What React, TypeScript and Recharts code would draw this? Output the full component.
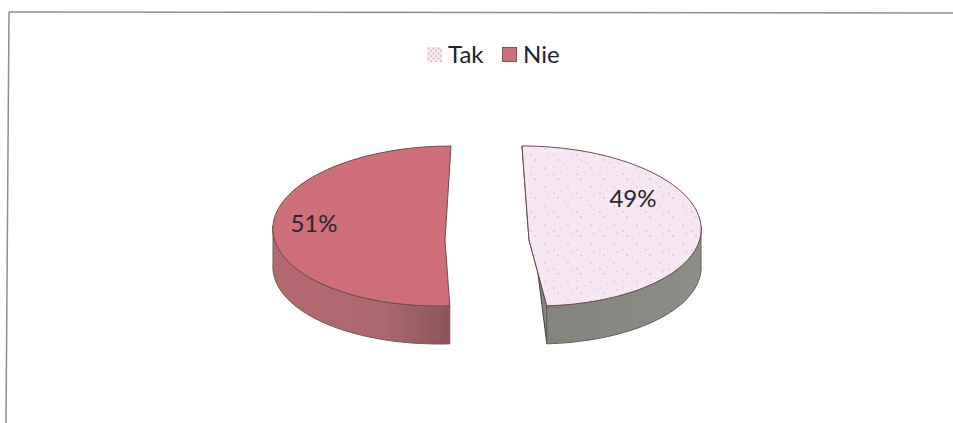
import { PieChart, Pie, Legend, Cell } from "recharts";

const categories = ["Tak", "Nie"];
const shares = [49, 51];

const chartData = categories.map((name, i) => ({ name, value: shares[i] }));

// look of the fake 3D slices
const TILT = 80 / 172;
const APEX_DROP = 14;
const DEPTH = 38;
const sliceLook = [
  { shiftX: 41, lean: -7, top: "url(#speckle)", wall: "url(#wallGrey)", labelX: 104, labelY: -43 },
  { shiftX: -43, lean: 6, top: "#cf6f79", wall: "url(#wallRed)", labelX: -131, labelY: -18 },
];

const point = (p: any, look: any, angle: number, drop = 0) => {
  const rad = (angle * Math.PI) / 180;
  const up = Math.sin(rad);
  const x = p.cx + look.shiftX + p.outerRadius * Math.cos(rad) + look.lean * up;
  const y = p.cy - p.outerRadius * TILT * up + drop;
  return [x, y];
};

const arcPoints = (p: any, look: any, drop = 0, frontOnly = false) => {
  const pts: number[][] = [];
  const steps = 90;
  for (let i = 0; i <= steps; i++) {
    const angle = p.startAngle + ((p.endAngle - p.startAngle) * i) / steps;
    if (frontOnly && Math.sin((angle * Math.PI) / 180) > 0.02) continue;
    pts.push(point(p, look, angle, drop));
  }
  return pts;
};

const toPath = (pts: number[][]) =>
  pts.map((q, i) => `${i ? "L" : "M"}${q[0].toFixed(1)},${q[1].toFixed(1)}`).join("") + "Z";

const Slice3D = (props: any) => {
  const look = sliceLook[props.index];
  const apex = [props.cx + look.shiftX, props.cy + APEX_DROP];
  const rim = arcPoints(props, look);
  const front = arcPoints(props, look, 0, true);
  const frontLow = arcPoints(props, look, DEPTH, true);
  const wall = [...front, ...frontLow.slice().reverse()];
  // the cut face that shows beside the right slice
  const cut =
    props.index === 0
      ? [rim[0], apex, rim[rim.length - 1], point(props, look, props.endAngle, DEPTH)]
      : [];
  return (
    <g>
      {cut.length > 0 && <path d={toPath(cut)} fill="#85857f" stroke="#3f3f3c" strokeWidth={1} />}
      <path d={toPath(wall)} fill={look.wall} stroke="#6e5a5a" strokeWidth={1} />
      <path d={toPath([apex, ...rim])} fill={look.top} stroke="#6b4b50" strokeWidth={1} />
    </g>
  );
};

const renderLabel = (p: any) => {
  const look = sliceLook[p.index];
  return (
    <text
      x={p.cx + look.shiftX + look.labelX}
      y={p.cy + APEX_DROP + look.labelY}
      textAnchor="middle"
      dominantBaseline="central"
      fontFamily="Lato"
      fontSize={24}
      fill="#26262c"
    >
      {`${shares[p.index]}%`}
    </text>
  );
};

const LegendRow = () => (
  <div style={{ display: "flex", alignItems: "center", fontFamily: "Lato", fontSize: 24, color: "#22222a", lineHeight: "28px" }}>
    <svg width={15} height={15} style={{ marginRight: 6 }}>
      <rect width={15} height={15} fill="url(#speckleDark)" />
    </svg>
    <span style={{ width: 54 }}>{categories[0]}</span>
    <svg width={15} height={15} style={{ marginRight: 6 }}>
      <rect x={0.5} y={0.5} width={14} height={14} fill="#cf6f79" stroke="#8a5058" />
    </svg>
    <span>{categories[1]}</span>
  </div>
);

export default function App() {
  return (
    <div style={{ position: "absolute", left: 0, top: 0, width: 953, height: 423, background: "#fff" }}>
      <PieChart width={953} height={423} margin={{ top: 0, right: 0, bottom: 0, left: 0 }}>
        <defs>
          <pattern id="speckle" width="23" height="19" patternUnits="userSpaceOnUse">
            <rect width="23" height="19" fill="#f6e7f3" />
            <circle cx="2" cy="3" r="0.8" fill="#cbbcc8" />
            <circle cx="9" cy="1" r="0.6" fill="#d8c8d4" />
            <circle cx="6" cy="8" r="0.8" fill="#c8b8c4" />
            <circle cx="12" cy="11" r="0.6" fill="#d5c5d1" />
            <circle cx="19" cy="5" r="0.7" fill="#cfc0cc" />
            <circle cx="16" cy="16" r="0.8" fill="#cbbcc8" />
            <circle cx="3" cy="15" r="0.6" fill="#d8c8d4" />
          </pattern>
          <pattern id="speckleDark" width="5" height="5" patternUnits="userSpaceOnUse">
            <rect width="5" height="5" fill="#f7eaf3" />
            <circle cx="1.5" cy="1.5" r="1" fill="#d9b9c8" />
            <circle cx="4" cy="4" r="1" fill="#d9b9c8" />
          </pattern>
          <linearGradient id="wallRed" x1="0" y1="0" x2="1" y2="0">
            <stop offset="0%" stopColor="#b4686e" />
            <stop offset="60%" stopColor="#ab6a6e" />
            <stop offset="100%" stopColor="#8a5558" />
          </linearGradient>
          <linearGradient id="wallGrey" x1="0" y1="0" x2="1" y2="0">
            <stop offset="0%" stopColor="#84847e" />
            <stop offset="100%" stopColor="#8e8e88" />
          </linearGradient>
        </defs>
        {/* scanned frame: only the top and left edges survive */}
        <line x1={9} y1={12} x2={953} y2={13} stroke="#8e8e8e" strokeWidth={1.5} />
        <line x1={9} y1={12} x2={6} y2={423} stroke="#8e8e8e" strokeWidth={1.5} />
        <Legend
          content={<LegendRow />}
          layout="horizontal"
          verticalAlign="top"
          wrapperStyle={{ left: 427, top: 40, width: 160 }}
        />
        <Pie
          data={chartData}
          dataKey="value"
          nameKey="name"
          cx={488}
          cy={198}
          outerRadius={172}
          startAngle={90}
          endAngle={-270}
          paddingAngle={0}
          stroke="none"
          shape={Slice3D}
          label={renderLabel}
          labelLine={false}
          isAnimationActive={false}
        >
          {chartData.map((d) => (
            <Cell key={d.name} />
          ))}
        </Pie>
      </PieChart>
    </div>
  );
}
